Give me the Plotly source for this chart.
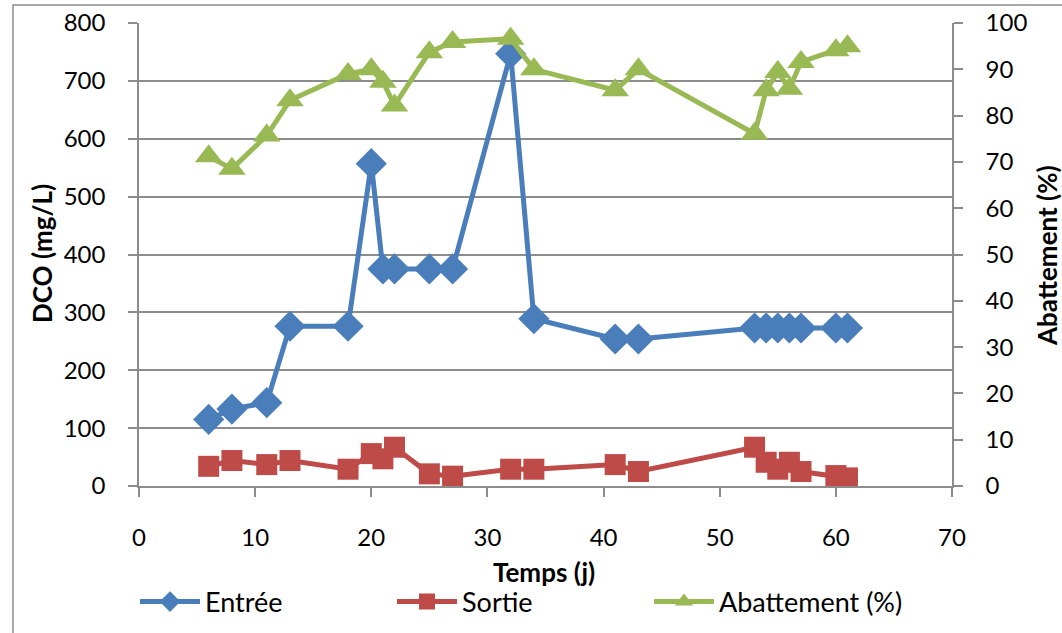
import plotly.graph_objects as go

# Data
temps = [6, 8, 11, 13, 18, 20, 21, 22, 25, 27, 32, 34, 41, 43, 53, 54, 55, 56, 57, 60, 61]
entree = [115, 133, 144, 276, 276, 557, 375, 375, 375, 375, 747, 289, 254, 254,
          273, 273, 273, 273, 273, 273, 273]
sortie = [34, 44, 37, 44, 29, 56, 47, 67, 21, 17, 29, 29, 37, 25,
          67, 41, 29, 41, 25, 18, 14]
abattement = [71.2, 68.5, 75.7, 83.3, 89.0, 90.0, 87.3, 82.2, 93.7, 95.9, 96.6, 90.0,
              85.5, 90.0, 76.1, 85.5, 89.4, 85.8, 91.6, 94.1, 95.0]

x_ticks = [0, 10, 20, 30, 40, 50, 60, 70]
y_ticks = [0, 100, 200, 300, 400, 500, 600, 700, 800]
y2_ticks = [0, 10, 20, 30, 40, 50, 60, 70, 80, 90, 100]

BLUE = "#4A7EBB"
RED = "#BE4B48"
GREEN = "#98B954"
GRID = "#8C8C8C"
FONT = "Lato, Open Sans, sans-serif"

fig = go.Figure()
fig.add_trace(go.Scatter(x=temps, y=entree, name="Entrée", mode="lines+markers",
                         line=dict(color=BLUE, width=5),
                         marker=dict(symbol="diamond", size=24, color=BLUE)))
fig.add_trace(go.Scatter(x=temps, y=sortie, name="Sortie", mode="lines+markers",
                         line=dict(color=RED, width=5),
                         marker=dict(symbol="square", size=21, color=RED)))
fig.add_trace(go.Scatter(x=temps, y=abattement, name="Abattement (%)", mode="lines+markers",
                         yaxis="y2",
                         line=dict(color=GREEN, width=5),
                         marker=dict(symbol="triangle-up", size=24, color=GREEN)))

W, H = 1062, 633
L, R, T, B = 139, 110, 23, 147
pw = W - L - R
ph = H - T - B

def px(xp):
    return (xp - L) / pw

def py(yp):
    return (H - B - yp) / ph

fig.update_layout(
    width=W, height=H,
    margin=dict(l=L, r=R, t=T, b=B, autoexpand=False),
    paper_bgcolor="white", plot_bgcolor="white",
    font=dict(family=FONT, size=24, color="black"),
    xaxis=dict(range=[0, 70], tickvals=x_ticks, ticks="outside", ticklen=9,
               tickcolor=GRID, tickwidth=1.5, showline=True, linecolor=GRID, linewidth=1.5,
               showgrid=False, zeroline=False, ticklabelstandoff=20,
               tickfont=dict(size=24)),
    yaxis=dict(range=[0, 800], tickvals=y_ticks, ticks="outside", ticklen=9,
               tickcolor=GRID, tickwidth=1.5, showline=True, linecolor=GRID, linewidth=1.5,
               showgrid=True, gridcolor=GRID, gridwidth=1.5, zeroline=False,
               ticklabelstandoff=18, tickfont=dict(size=24)),
    yaxis2=dict(range=[0, 100], tickvals=y2_ticks, overlaying="y", side="right",
                ticks="outside", ticklen=9, tickcolor=GRID, tickwidth=1.5,
                showline=True, linecolor=GRID, linewidth=1.5, showgrid=False,
                zeroline=False, ticklabelstandoff=18, tickfont=dict(size=24)),
    legend=dict(orientation="h", x=px(135), xanchor="left", y=py(602), yanchor="middle",
                entrywidth=182, entrywidthmode="pixels", itemwidth=60,
                font=dict(size=27), bgcolor="rgba(0,0,0,0)", tracegroupgap=0),
    showlegend=True,
)

# Axis titles
fig.add_annotation(text="<b>DCO (mg/L)</b>", x=px(42), y=py(254), xref="paper", yref="paper",
                   textangle=-90, showarrow=False, font=dict(size=26),
                   xanchor="center", yanchor="middle")
fig.add_annotation(text="<b>Abattement (%)</b>", x=px(1047), y=py(256), xref="paper", yref="paper",
                   textangle=-90, showarrow=False, font=dict(size=26),
                   xanchor="center", yanchor="middle")
fig.add_annotation(text="<b>Temps (j)</b>", x=px(544), y=py(572), xref="paper", yref="paper",
                   showarrow=False, font=dict(size=26), xanchor="center", yanchor="middle")

# Outer chart frame
fig.add_shape(type="rect", xref="paper", yref="paper",
              x0=px(13), x1=px(1075), y0=py(650), y1=py(5),
              line=dict(color="#8C8C8C", width=1.5), fillcolor="rgba(0,0,0,0)", layer="below")

fig.write_html("out.html")
